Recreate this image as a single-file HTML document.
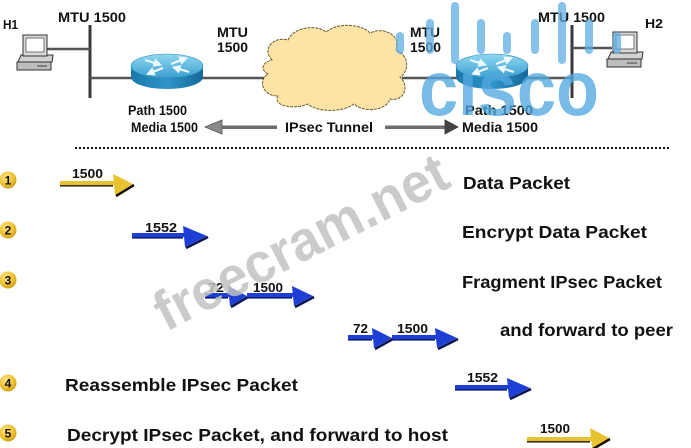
<!DOCTYPE html>
<html><head><meta charset="utf-8"><style>
html,body{margin:0;padding:0;background:#fff;}
svg{display:block;}
text{font-family:"Liberation Sans",Arial,sans-serif;font-weight:bold;}
</style></head><body>
<svg width="691" height="448" viewBox="0 0 691 448" xmlns="http://www.w3.org/2000/svg">
<defs>
<radialGradient id="badge" cx="40%" cy="35%" r="70%"><stop offset="0" stop-color="#fde68a"/><stop offset="0.6" stop-color="#f1c232"/><stop offset="1" stop-color="#c99a12"/></radialGradient>
<linearGradient id="rtop" x1="0" y1="0" x2="0" y2="1"><stop offset="0" stop-color="#8fd8f2"/><stop offset="1" stop-color="#3b9fd0"/></linearGradient>
<linearGradient id="rside" x1="0" y1="0" x2="1" y2="0"><stop offset="0" stop-color="#1a78aa"/><stop offset="0.5" stop-color="#2f95c8"/><stop offset="1" stop-color="#16699a"/></linearGradient>
<marker id="wh" markerWidth="4" markerHeight="4" refX="2" refY="2" orient="auto" markerUnits="strokeWidth"><path d="M0,0 L4,2 L0,4 Z" fill="#eef9ff"/></marker>
<clipPath id="cl"><rect x="380" y="69" width="260" height="60"/></clipPath>
</defs>
<rect width="691" height="448" fill="#fff"/>

<!-- network lines -->
<line x1="90" y1="25" x2="90" y2="98" stroke="#3a3a3a" stroke-width="3"/>
<line x1="47" y1="49" x2="90" y2="49" stroke="#555" stroke-width="2.5"/>
<line x1="90" y1="78" x2="135" y2="78" stroke="#555" stroke-width="2.5"/>
<line x1="200" y1="78" x2="268" y2="78" stroke="#555" stroke-width="2.5"/>
<line x1="402" y1="78" x2="458" y2="78" stroke="#555" stroke-width="2.5"/>
<line x1="526" y1="78" x2="572" y2="78" stroke="#555" stroke-width="2.5"/>
<line x1="572" y1="25" x2="572" y2="98" stroke="#3a3a3a" stroke-width="3"/>
<line x1="572" y1="48" x2="612" y2="48" stroke="#555" stroke-width="2.5"/>

<!-- H1 computer -->
<g transform="translate(17,35)">
<polygon points="4,20 36,20 35,27 1,27" fill="#d2d2d2" stroke="#333" stroke-width="1"/>
<rect x="0" y="27" width="34" height="8" fill="#bdbdbd" stroke="#333" stroke-width="1"/>
<line x1="20" y1="31" x2="30" y2="31" stroke="#444" stroke-width="1"/>
<rect x="6" y="0" width="24" height="21" fill="#d8d8d8" stroke="#333" stroke-width="1"/>
<rect x="9" y="3" width="18" height="14" fill="#fff" stroke="#555" stroke-width="0.8"/>
</g>
<!-- H2 computer -->
<g transform="translate(607,32)">
<polygon points="4,20 36,20 35,27 1,27" fill="#d2d2d2" stroke="#333" stroke-width="1"/>
<rect x="0" y="27" width="34" height="8" fill="#bdbdbd" stroke="#333" stroke-width="1"/>
<line x1="20" y1="31" x2="30" y2="31" stroke="#444" stroke-width="1"/>
<rect x="6" y="0" width="24" height="21" fill="#d8d8d8" stroke="#333" stroke-width="1"/>
<rect x="9" y="3" width="18" height="14" fill="#fff" stroke="#555" stroke-width="0.8"/>
</g>

<!-- Router 1 -->
<g>
<path d="M131,66 L131,77 A36,12 0 0 0 203,77 L203,66 Z" fill="url(#rside)"/>
<ellipse cx="167" cy="66" rx="36" ry="12" fill="url(#rtop)" stroke="#2a88b8" stroke-width="0.6"/>
<g stroke="#eef9ff" stroke-width="2.2" marker-end="url(#wh)">
<line x1="145" y1="60" x2="158" y2="64"/>
<line x1="189" y1="72" x2="176" y2="68"/>
<line x1="171" y1="64" x2="184" y2="59"/>
<line x1="163" y1="68" x2="150" y2="73"/>
</g>
</g>
<!-- Router 2 -->
<g>
<path d="M456,66 L456,77 A36,12 0 0 0 528,77 L528,66 Z" fill="url(#rside)"/>
<ellipse cx="492" cy="66" rx="36" ry="12" fill="url(#rtop)" stroke="#2a88b8" stroke-width="0.6"/>
<g stroke="#eef9ff" stroke-width="2.2" marker-end="url(#wh)">
<line x1="470" y1="60" x2="483" y2="64"/>
<line x1="514" y1="72" x2="501" y2="68"/>
<line x1="496" y1="64" x2="509" y2="59"/>
<line x1="488" y1="68" x2="475" y2="73"/>
</g>
</g>

<!-- Cloud -->
<path d="M272,60 C262,50 272,36 288,40 C294,27 316,24 326,32 C338,22 362,24 370,33 C384,26 402,36 396,50 C410,56 409,72 400,77 C410,86 404,102 390,99 C386,111 364,113 354,104 C342,113 316,112 308,104 C294,110 272,106 278,96 C262,96 258,80 268,74 C260,70 262,62 272,60 Z" fill="#fde4a6" stroke="#6b5a2e" stroke-width="1" stroke-dasharray="3 1"/>

<!-- top labels -->
<g fill="#111" font-size="14">
<text x="3" y="29" font-size="13" textLength="15" lengthAdjust="spacingAndGlyphs">H1</text>
<text x="58" y="22" textLength="68" lengthAdjust="spacingAndGlyphs">MTU 1500</text>
<text x="217" y="37" textLength="31" lengthAdjust="spacingAndGlyphs">MTU</text>
<text x="217" y="52" textLength="31" lengthAdjust="spacingAndGlyphs">1500</text>
<text x="128" y="115" textLength="59" lengthAdjust="spacingAndGlyphs">Path 1500</text>
<text x="131" y="132" textLength="67" lengthAdjust="spacingAndGlyphs">Media 1500</text>
<text x="285" y="132" textLength="88" lengthAdjust="spacingAndGlyphs">IPsec Tunnel</text>
<text x="410" y="37" textLength="30" lengthAdjust="spacingAndGlyphs">MTU</text>
<text x="410" y="52" textLength="31" lengthAdjust="spacingAndGlyphs">1500</text>
<text x="538" y="22" textLength="67" lengthAdjust="spacingAndGlyphs">MTU 1500</text>
<text x="645" y="28" font-size="13" textLength="18" lengthAdjust="spacingAndGlyphs">H2</text>
<text x="465" y="115" textLength="68" lengthAdjust="spacingAndGlyphs">Path 1500</text>
<text x="462" y="132" textLength="76" lengthAdjust="spacingAndGlyphs">Media 1500</text>
</g>

<!-- tunnel arrows -->
<rect x="219" y="125.5" width="58" height="3.5" fill="#6e6e6e"/>
<polygon points="205,127 222,120 222,134" fill="#8a8a8a" stroke="#555" stroke-width="0.8"/>
<rect x="385" y="125.5" width="62" height="3.5" fill="#6e6e6e"/>
<polygon points="458,127 445,120 445,134" fill="#444" stroke="#333" stroke-width="0.8"/>

<!-- dotted separator -->
<line x1="75" y1="148" x2="670" y2="148" stroke="#111" stroke-width="2" stroke-dasharray="2 2"/>

<!-- badges -->
<g>
<circle cx="8" cy="180" r="8.5" fill="url(#badge)"/>
<circle cx="8" cy="230" r="8.5" fill="url(#badge)"/>
<circle cx="8" cy="280" r="8.5" fill="url(#badge)"/>
<circle cx="8" cy="383" r="8.5" fill="url(#badge)"/>
<circle cx="8" cy="433" r="8.5" fill="url(#badge)"/>
<g fill="#111" font-size="12" text-anchor="middle">
<text x="8" y="184.5">1</text>
<text x="8" y="234.5">2</text>
<text x="8" y="284.5">3</text>
<text x="8" y="387.5">4</text>
<text x="8" y="437.5">5</text>
</g>
</g>

<!-- step texts -->
<g fill="#111" font-size="17.5">
<text x="463" y="189" textLength="107" lengthAdjust="spacingAndGlyphs">Data Packet</text>
<text x="462" y="238" textLength="185" lengthAdjust="spacingAndGlyphs">Encrypt Data Packet</text>
<text x="462" y="288" textLength="200" lengthAdjust="spacingAndGlyphs">Fragment IPsec Packet</text>
<text x="500" y="336" textLength="173" lengthAdjust="spacingAndGlyphs">and forward to peer</text>
<text x="65" y="391" textLength="233" lengthAdjust="spacingAndGlyphs">Reassemble IPsec Packet</text>
<text x="67" y="441" textLength="381" lengthAdjust="spacingAndGlyphs">Decrypt IPsec Packet, and forward to host</text>
</g>

<!-- packet arrows -->
<g>
<rect x="60" y="181" width="55" height="4" fill="#e9c230"/>
<rect x="60" y="185" width="53" height="1.6" fill="#3b2c05"/>
<polygon points="113,174 133,184 115,195" fill="#e9c230"/>
<line x1="134" y1="185" x2="116" y2="196" stroke="#1a1200" stroke-width="2.5"/>
</g>
<g>
<rect x="132" y="233" width="53" height="4" fill="#1d3fd6"/>
<rect x="132" y="237" width="51" height="1.6" fill="#0c1c6e"/>
<polygon points="183,226 207,236 185,247" fill="#1d3fd6"/>
<line x1="208" y1="237" x2="186" y2="248" stroke="#0a1450" stroke-width="2.5"/>
</g>
<g>
<rect x="205" y="293" width="25" height="4" fill="#1d3fd6"/>
<rect x="205" y="297" width="23" height="1.6" fill="#0c1c6e"/>
<polygon points="228,286 247,296 230,306" fill="#1d3fd6"/>
<line x1="248" y1="297" x2="231" y2="307" stroke="#0a1450" stroke-width="2.5"/>
</g>
<g>
<rect x="247" y="293" width="47" height="4" fill="#1d3fd6"/>
<rect x="247" y="297" width="45" height="1.6" fill="#0c1c6e"/>
<polygon points="292,286 313,296 294,306" fill="#1d3fd6"/>
<line x1="314" y1="297" x2="295" y2="307" stroke="#0a1450" stroke-width="2.5"/>
</g>
<g>
<rect x="348" y="335" width="26" height="4" fill="#1d3fd6"/>
<rect x="348" y="339" width="24" height="1.6" fill="#0c1c6e"/>
<polygon points="372,328 392,338 374,348" fill="#1d3fd6"/>
<line x1="393" y1="339" x2="375" y2="349" stroke="#0a1450" stroke-width="2.5"/>
</g>
<g>
<rect x="392" y="335" width="45" height="4" fill="#1d3fd6"/>
<rect x="392" y="339" width="43" height="1.6" fill="#0c1c6e"/>
<polygon points="435,328 457,338 437,348" fill="#1d3fd6"/>
<line x1="458" y1="339" x2="438" y2="349" stroke="#0a1450" stroke-width="2.5"/>
</g>
<g>
<rect x="455" y="385" width="54" height="4" fill="#1d3fd6"/>
<rect x="455" y="389" width="52" height="1.6" fill="#0c1c6e"/>
<polygon points="507,378 530,388 509,398" fill="#1d3fd6"/>
<line x1="531" y1="389" x2="510" y2="399" stroke="#0a1450" stroke-width="2.5"/>
</g>
<g>
<rect x="527" y="437" width="65" height="4" fill="#e9c230"/>
<rect x="527" y="441" width="63" height="1.6" fill="#3b2c05"/>
<polygon points="590,428 609,438 592,448" fill="#e9c230"/>
<line x1="610" y1="439" x2="593" y2="449" stroke="#1a1200" stroke-width="2.5"/>
</g>

<!-- arrow labels -->
<g fill="#111" font-size="13">
<text x="72" y="178" textLength="31" lengthAdjust="spacingAndGlyphs">1500</text>
<text x="145" y="232" textLength="32" lengthAdjust="spacingAndGlyphs">1552</text>
<text x="208" y="292" textLength="16" lengthAdjust="spacingAndGlyphs">72</text>
<text x="253" y="292" textLength="30" lengthAdjust="spacingAndGlyphs">1500</text>
<text x="353" y="333" textLength="15" lengthAdjust="spacingAndGlyphs">72</text>
<text x="397" y="333" textLength="31" lengthAdjust="spacingAndGlyphs">1500</text>
<text x="467" y="382" textLength="31" lengthAdjust="spacingAndGlyphs">1552</text>
<text x="540" y="433" textLength="30" lengthAdjust="spacingAndGlyphs">1500</text>
</g>

<!-- cisco watermark -->
<g stroke="#5eaee2" stroke-width="8" stroke-linecap="round" opacity="0.75">
<line x1="400" y1="36" x2="400" y2="50"/>
<line x1="430" y1="23" x2="430" y2="50"/>
<line x1="455" y1="6" x2="455" y2="60"/>
<line x1="481" y1="23" x2="481" y2="50"/>
<line x1="507" y1="36" x2="507" y2="50"/>
<line x1="535" y1="23" x2="535" y2="50"/>
<line x1="562" y1="6" x2="562" y2="60"/>
<line x1="589" y1="23" x2="589" y2="50"/>
<line x1="617" y1="36" x2="617" y2="50"/>
</g>
<text x="419" y="115" font-size="78" textLength="180" lengthAdjust="spacingAndGlyphs" fill="#52a8e0" opacity="0.78" clip-path="url(#cl)">cisco</text>

<!-- freecram watermark -->
<text x="166" y="332" font-size="56" textLength="322" lengthAdjust="spacingAndGlyphs" transform="rotate(-27 166 332)" fill="#c2c2c2" opacity="0.85">freecram.net</text>
</svg>
</body></html>
